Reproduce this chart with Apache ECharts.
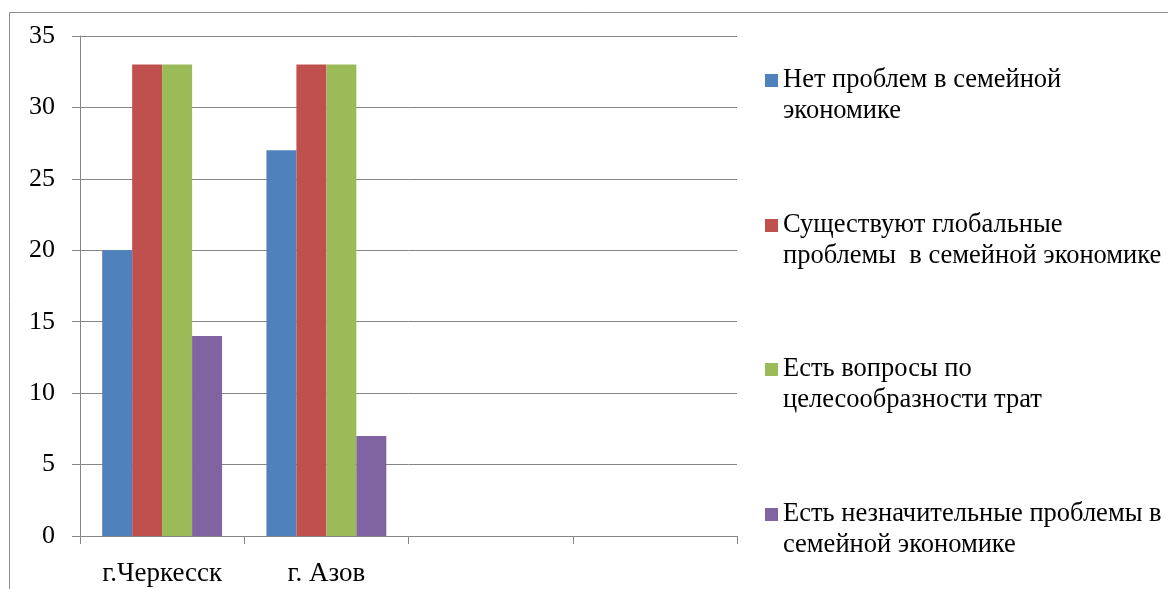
<!DOCTYPE html>
<html><head><meta charset="utf-8">
<script src="https://cdn.jsdelivr.net/npm/echarts@6/dist/echarts.min.js"></script>
<style>html,body{margin:0;padding:0;background:#fff}#c{width:1168px;height:589px}</style>
</head><body><div id="c"></div>
<script>
const categories = ['г.Черкесск', 'г. Азов', '', ''];
const seriesNames = [
  'Нет проблем в семейной\nэкономике',
  'Существуют глобальные\nпроблемы  в семейной экономике',
  'Есть вопросы по\nцелесообразности трат',
  'Есть незначительные проблемы в\nсемейной экономике'
];
const noProblems = [20, 27, null, null];
const globalProblems = [33, 33, null, null];
const expenseQuestions = [33, 33, null, null];
const minorProblems = [14, 7, null, null];
const yTicks = [0, 5, 10, 15, 20, 25, 30, 35];

const colors = ['#4F81BD', '#C0504D', '#9BBB59', '#8064A2'];
const values = [noProblems, globalProblems, expenseQuestions, minorProblems];
const font = '"Liberation Serif", "DejaVu Serif", serif';
const legendTops = [29, 174, 318, 463];

const chart = echarts.init(document.getElementById('c'));
chart.setOption({
  animation: false,
  color: colors,
  graphic: [{
    type: 'rect', silent: true,
    shape: {x: 9.5, y: 12.5, width: 1300, height: 700},
    style: {fill: 'none', stroke: '#8c8c8c', lineWidth: 1}
  }],
  grid: {left: 80, top: 36, width: 657, bottom: 53},
  xAxis: {
    type: 'category', data: categories,
    axisLine: {lineStyle: {color: '#868686', width: 1}},
    axisTick: {show: true, length: 8, lineStyle: {color: '#868686'}, alignWithLabel: false},
    axisLabel: {color: '#000', fontFamily: font, fontSize: 27, margin: 24}
  },
  yAxis: {
    type: 'value', min: 0, max: 35, interval: 5,
    axisLine: {show: true, lineStyle: {color: '#868686', width: 1}},
    axisTick: {show: true, length: 8, lineStyle: {color: '#868686'}},
    splitLine: {lineStyle: {color: '#868686', width: 1}},
    axisLabel: {color: '#000', fontFamily: font, fontSize: 26, margin: 25,
      formatter: v => yTicks.includes(v) ? String(v) : ''}
  },
  legend: seriesNames.map((n, i) => ({
    data: [n], orient: 'vertical', left: 760, top: legendTops[i],
    itemWidth: 13, itemHeight: 13, icon: 'rect', selectedMode: false,
    formatter: name => '\n' + name,
    textStyle: {fontFamily: font, fontSize: 26.5, color: '#000', lineHeight: 31}
  })),
  series: seriesNames.map((n, i) => ({
    name: n, type: 'bar', data: values[i],
    barGap: '0%', barCategoryGap: '27%',
    itemStyle: {color: colors[i]}
  }))
});
</script></body></html>
